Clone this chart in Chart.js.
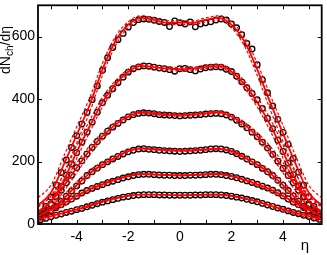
<!DOCTYPE html>
<html>
<head>
<meta charset="utf-8">
<script src="https://cdn.jsdelivr.net/npm/chart.js@4/dist/chart.umd.min.js"></script>
<style>
  html, body { margin: 0; padding: 0; background: #fff; }
  #wrap { width: 327px; height: 255px; }
</style>
</head>
<body>
<div id="wrap"><canvas id="myChart" width="327" height="255"></canvas></div>
<script>
// measured points, eta = -5.4 .. 5.4
const ETA = [-5.4, -5.2, -5.0, -4.8, -4.6, -4.4, -4.2, -4.0, -3.8, -3.6, -3.4, -3.2, -3.0, -2.8,
  -2.6, -2.4, -2.2, -2.0, -1.8, -1.6, -1.4, -1.2, -1.0, -0.8, -0.6, -0.4, -0.2, 0.0,
  0.2, 0.4, 0.6, 0.8, 1.0, 1.2, 1.4, 1.6, 1.8, 2.0, 2.2, 2.4, 2.6, 2.8, 3.0, 3.2,
  3.4, 3.6, 3.8, 4.0, 4.2, 4.4, 4.6, 4.8, 5.0, 5.2, 5.4];

const DATA_0_6 = [34, 56, 86, 125, 165, 205, 245, 283, 320, 357, 398, 442, 492, 532,
  565, 590, 610, 630, 645, 654, 656, 655, 652, 648, 645, 632, 650, 644,
  640, 647, 631, 640, 644, 647, 653, 656, 653, 640, 628, 606, 578, 560, 510, 462,
  420, 378, 335, 293, 255, 210, 166, 124, 87, 56, 34];
const DATA_6_15 = [26, 40, 62, 88, 120, 156, 192, 228, 262, 294, 326, 358, 388, 412,
  433, 452, 470, 486, 497, 503, 506, 505, 502, 499, 497, 494, 489, 497,
  498, 494, 490, 496, 500, 502, 503, 502, 495, 488, 473, 455, 436, 418, 398, 370,
  338, 305, 268, 232, 195, 158, 122, 88, 60, 40, 25];
const DATA_15_25 = [31, 45, 64, 86, 108, 132, 156, 180, 202, 224, 245, 264, 281, 297,
  310, 322, 333, 343, 350, 354, 356, 355, 353, 350, 349, 348, 347, 346,
  347, 348, 349, 350, 352, 353, 354, 353, 349, 342, 332, 320, 308, 294, 279, 262,
  243, 223, 201, 178, 155, 132, 108, 86, 64, 46, 32];
const DATA_25_35 = [22, 30, 42, 56, 72, 89, 106, 122, 138, 155, 167, 179, 190, 199,
  208, 216, 224, 231, 236, 240, 241, 239, 238, 236, 235, 234, 233, 232,
  233, 234, 235, 236, 238, 240, 241, 240, 237, 232, 225, 217, 208, 199, 190, 178,
  167, 155, 140, 124, 107, 90, 73, 57, 44, 33, 24];
const DATA_35_45 = [25, 34, 43, 52, 62, 71, 80, 89, 99, 107, 114, 120, 126, 132,
  137, 142, 147, 151, 155, 158, 159, 159, 158, 157, 156, 156, 155, 155,
  155, 156, 156, 157, 158, 159, 159, 158, 155, 152, 148, 143, 138, 133, 127, 121,
  115, 108, 100, 90, 80, 70, 62, 53, 44, 35, 26];
const DATA_45_55 = [14, 18, 23, 28, 32, 37, 41, 46, 50, 55, 60, 65, 70, 74,
  78, 82, 86, 88, 91, 93, 94, 94, 94, 93, 93, 92, 92, 92,
  92, 92, 93, 93, 94, 94, 94, 93, 91, 89, 86, 83, 79, 75, 71, 66,
  61, 56, 51, 47, 42, 37, 33, 28, 24, 19, 15];

// model curves, eta = -5.5 .. 5.5
const FIT_ETA = [-5.5, -5.0, -4.5, -4.0, -3.5, -3.0, -2.5, -2.0, -1.5, -1.0, -0.5, 0.0,
  0.5, 1.0, 1.5, 2.0, 2.5, 3.0, 3.5, 4.0, 4.5, 5.0, 5.5];
const FIT_0_6 = [60, 100, 190, 285, 380, 495, 585, 638, 660, 653, 644, 645,
  644, 653, 660, 638, 585, 495, 390, 290, 190, 100, 60];
const FIT_6_15 = [38, 72, 140, 230, 312, 390, 447, 488, 506, 502, 497, 496,
  497, 502, 506, 488, 447, 390, 318, 232, 140, 72, 38];
const FIT_15_25 = [40, 72, 122, 180, 235, 281, 318, 344, 357, 354, 350, 349,
  350, 354, 357, 344, 318, 281, 235, 180, 122, 72, 40];
const FIT_25_35 = [26, 46, 82, 124, 162, 190, 213, 233, 241, 239, 236, 235,
  236, 239, 241, 233, 213, 190, 162, 124, 82, 46, 26];
const FIT_35_45 = [26, 44, 66, 90, 111, 127, 141, 153, 160, 159, 157, 156,
  157, 159, 160, 153, 141, 127, 111, 90, 66, 44, 26];
const FIT_45_55 = [15, 25, 36, 47, 59, 72, 82, 90, 94, 94, 93, 92,
  93, 94, 94, 90, 82, 72, 59, 47, 36, 25, 15];
// relative half width of the dashed band
const BAND = [0.40, 0.24, 0.14, 0.09, 0.06, 0.04, 0.025, 0.015, 0.01, 0.01, 0.01, 0.01,
  0.01, 0.01, 0.01, 0.015, 0.025, 0.04, 0.06, 0.09, 0.14, 0.24, 0.40];

const X_TICKS = [-5, -4, -3, -2, -1, 0, 1, 2, 3, 4, 5];
const X_LABELS = [-4, -2, 0, 2, 4];
const Y_TICKS = [0, 200, 400, 600];

const RED = 'rgb(255, 0, 0)';
const series = [DATA_0_6, DATA_6_15, DATA_15_25, DATA_25_35, DATA_35_45, DATA_45_55];
const fits = [FIT_0_6, FIT_6_15, FIT_15_25, FIT_25_35, FIT_35_45, FIT_45_55];

function toXY(xs, ys) {
  return xs.map((x, i) => ({x: x, y: ys[i]}));
}

const datasets = [];
fits.forEach(function(f) {
  const upper = f.map((v, i) => v * (1 + BAND[i]));
  const lower = f.map((v, i) => v * (1 - BAND[i]));
  datasets.push({data: toXY(FIT_ETA, f), borderColor: RED, borderWidth: 1.8,
    showLine: true, pointRadius: 0, cubicInterpolationMode: 'monotone'});
  [upper, lower].forEach(function(b) {
    datasets.push({data: toXY(FIT_ETA, b), borderColor: RED, borderWidth: 1.2,
      borderDash: [3, 2], showLine: true, pointRadius: 0, cubicInterpolationMode: 'monotone'});
  });
});
series.forEach(function(s) {
  datasets.push({data: toXY(ETA, s), showLine: false, pointStyle: 'circle', pointRadius: 2.8,
    pointBorderColor: '#000', pointBackgroundColor: 'rgba(0,0,0,0)', pointBorderWidth: 1.3});
});

const frame = {
  id: 'frame',
  afterDatasetsDraw: (chart) => {
    const {ctx, chartArea: a, scales: {x, y}} = chart;
    ctx.save();
    ctx.strokeStyle = '#000';
    ctx.lineWidth = 1;
    ctx.beginPath();
    X_TICKS.forEach(t => {
      const px = Math.round(x.getPixelForValue(t)) + 0.5;
      ctx.moveTo(px, a.bottom); ctx.lineTo(px, a.bottom - 4);
      ctx.moveTo(px, a.top); ctx.lineTo(px, a.top + 4);
    });
    Y_TICKS.forEach(t => {
      const py = Math.round(y.getPixelForValue(t)) + 0.5;
      ctx.moveTo(a.left, py); ctx.lineTo(a.left + 4, py);
      ctx.moveTo(a.right, py); ctx.lineTo(a.right - 4, py);
    });
    ctx.stroke();
    ctx.lineWidth = 1.8;
    ctx.strokeRect(a.left, a.top, a.right - a.left, a.bottom - a.top);

    ctx.fillStyle = '#000';
    ctx.font = '14px "Liberation Sans", Arial, sans-serif';
    ctx.textAlign = 'center';
    ctx.textBaseline = 'middle';
    X_LABELS.forEach(t => {
      ctx.fillText(String(t), x.getPixelForValue(t), a.bottom + 13);
    });
    ctx.textAlign = 'right';
    Y_TICKS.forEach(t => {
      ctx.fillText(String(t), a.left - 3, y.getPixelForValue(t));
    });
    ctx.textAlign = 'center';
    ctx.font = '15px "Liberation Sans", Arial, sans-serif';
    ctx.fillText('η', 305, 246);

    // rotated y title with subscript
    ctx.translate(6, 50);
    ctx.rotate(-Math.PI / 2);
    ctx.textAlign = 'left';
    ctx.textBaseline = 'middle';
    const f1 = '14px "Liberation Sans", Arial, sans-serif';
    const f2 = '10px "Liberation Sans", Arial, sans-serif';
    ctx.font = f1; const w1 = ctx.measureText('dN').width;
    ctx.font = f2; const w2 = ctx.measureText('ch').width;
    ctx.font = f1; const w3 = ctx.measureText('/dη').width;
    let cx = -(w1 + w2 + w3) / 2;
    ctx.font = f1; ctx.fillText('dN', cx, 0); cx += w1;
    ctx.font = f2; ctx.fillText('ch', cx, 4); cx += w2;
    ctx.font = f1; ctx.fillText('/dη', cx, 0);
    ctx.restore();
  }
};

const myChart = new Chart(document.getElementById('myChart'), {
  type: 'scatter',
  data: {datasets: datasets},
  options: {
    responsive: false,
    animation: false,
    devicePixelRatio: 1,
    layout: {padding: {top: 1, right: 1}},
    plugins: {legend: {display: false}, tooltip: {enabled: false}},
    scales: {
      x: {type: 'linear', min: -5.5, max: 5.5, grid: {display: false}, border: {display: false},
        ticks: {display: false}, afterFit: (s) => { s.height = 31; }},
      y: {min: 0, max: 700, grid: {display: false}, border: {display: false},
        ticks: {display: false}, afterFit: (s) => { s.width = 38; }}
    }
  },
  plugins: [frame]
});
</script>
</body>
</html>
